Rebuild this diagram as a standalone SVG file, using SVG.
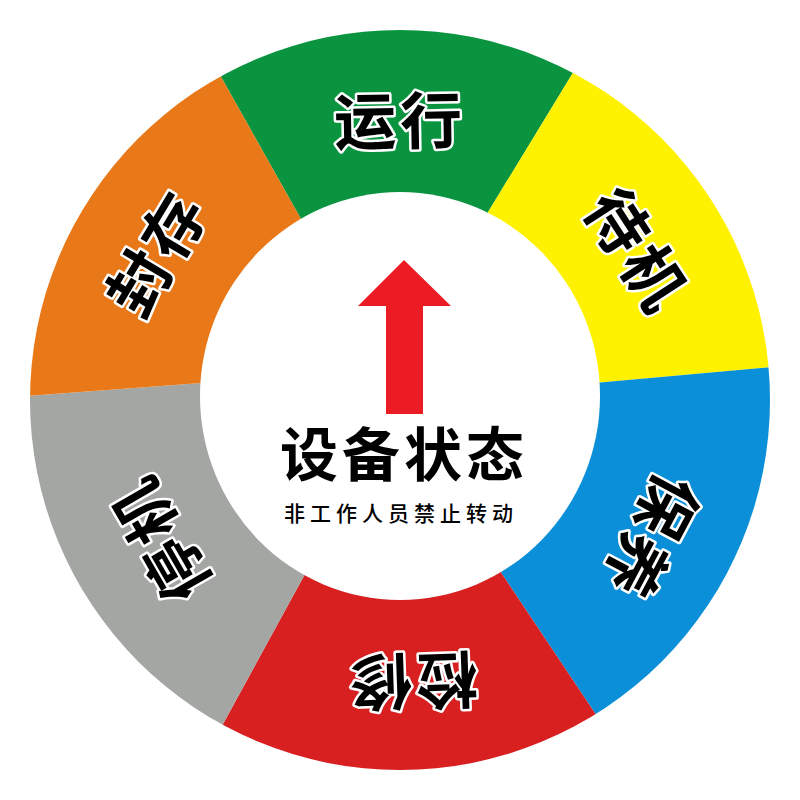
<svg xmlns="http://www.w3.org/2000/svg" width="800" height="800" viewBox="0 0 800 800">
<defs>
<clipPath id="outer"><circle cx="400" cy="400" r="370"/></clipPath>
<style>
.lbl{font-family:"Noto Sans CJK SC","Noto Sans CJK JP",sans-serif;font-weight:700;font-size:62px;fill:#000;stroke:#fff;stroke-width:5;stroke-linejoin:round;paint-order:stroke;text-anchor:middle;letter-spacing:4px}
.title{font-family:"Noto Sans CJK SC",sans-serif;font-weight:700;font-size:58px;fill:#000;text-anchor:middle;letter-spacing:4px}
.sub{font-family:"Noto Sans CJK SC",sans-serif;font-weight:500;font-size:21px;fill:#000;text-anchor:middle;letter-spacing:5px}
</style>
</defs>
<rect width="800" height="800" fill="#fff"/>
<g clip-path="url(#outer)">
<g id="seg-green"><polygon fill="#0a9440" points="400,400 324,260 180,4 400,-60 613,7 465,250"/></g>
<g id="seg-yellow"><polygon fill="#fff200" points="400,400 465,250 613,7 900,-60 852,360 550,387"/></g>
<g id="seg-blue"><polygon fill="#0a8fd8" points="400,400 550,387 852,360 900,860 645,788 474,532"/></g>
<g id="seg-red"><polygon fill="#d82020" points="400,400 474,532 645,788 400,860 188,788 328,532"/></g>
<g id="seg-gray"><polygon fill="#a3a6a3" points="400,400 328,532 188,788 -100,860 -55,402 255,379"/></g>
<g id="seg-orange"><polygon fill="#e87818" points="400,400 255,379 -55,402 -100,-60 180,4 324,260"/></g>
</g>
<g id="center">
<ellipse cx="400" cy="396" rx="200" ry="204" fill="#fff"/>
<polygon fill="#ec1c24" points="404,260 451,306 423,306 423,414 386,414 386,306 358,306"/>
<text class="title" x="404" y="476">设备状态</text>
<text class="sub" x="401" y="521">非工作人员禁止转动</text>
</g>
<g id="labels">
<g id="lbl-run" transform="translate(398,122) rotate(-1)"><text class="lbl" x="2" y="22">运行</text></g>
<g id="lbl-standby" transform="translate(635,250) rotate(57)"><text class="lbl" x="2" y="22">待机</text></g>
<g id="lbl-maint" transform="translate(651,535) rotate(118)"><text class="lbl" x="2" y="22">保养</text></g>
<g id="lbl-repair" transform="translate(414,680) rotate(178)"><text class="lbl" x="2" y="22">检修</text></g>
<g id="lbl-stop" transform="translate(162,540) rotate(-120)"><text class="lbl" x="2" y="22">停机</text></g>
<g id="lbl-seal" transform="translate(157,255) rotate(-59)"><text class="lbl" x="2" y="22">封存</text></g>
</g>
</svg>
